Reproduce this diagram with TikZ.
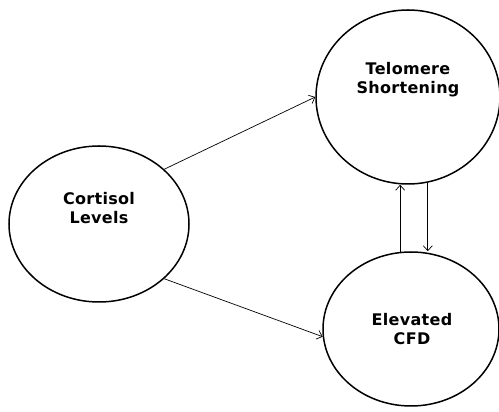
\documentclass[tikz,border=0pt]{standalone}
\usepackage{fontspec}
\setmainfont{DejaVu Sans}
\newfontfamily\bubblefont[LetterSpace=2]{DejaVu Sans}
\usetikzlibrary{shapes.geometric,positioning,arrows.meta}

\begin{document}
\begin{tikzpicture}[x=1pt,y=1pt,on grid,
   bubble/.style={ellipse,draw,line width=1.5pt,inner sep=0pt},
   bubbletext/.style={align=center,font=\bubblefont\bfseries\fontsize{16}{19}\selectfont},
   link/.style={-{Straight Barb[length=5pt,width=9pt]},line width=0.7pt}]
   \useasboundingbox (0,0) rectangle (499,412);
   \node[bubble,minimum width=180pt,minimum height=156pt] (cort) at (99,188) {};
   \node[bubble,minimum width=184pt,minimum height=174pt] (telo) [above right=127pt and 309pt of cort] {};
   \node[bubble,minimum width=176pt,minimum height=154pt] (cfd) [below right=232pt and 3pt of telo] {};
   \node[bubbletext] (cort_t) [above=16pt of cort] {Cortisol\\Levels};
   \node[bubbletext] (telo_t) [above=17pt of telo] {Telomere\\Shortening};
   \node[bubbletext] (cfd_t) [right=1pt of cfd] {Elevated\\CFD};
    \draw[link] (cort.40) -- (telo.180);
    \draw[link] (cort.-40) -- (cfd.185);
    \draw[link] (cfd.98) -- (cfd.98 |- telo.south);
    \draw[link] (telo.-77) -- (telo.-77 |- cfd.north);
\end{tikzpicture}
\end{document}
